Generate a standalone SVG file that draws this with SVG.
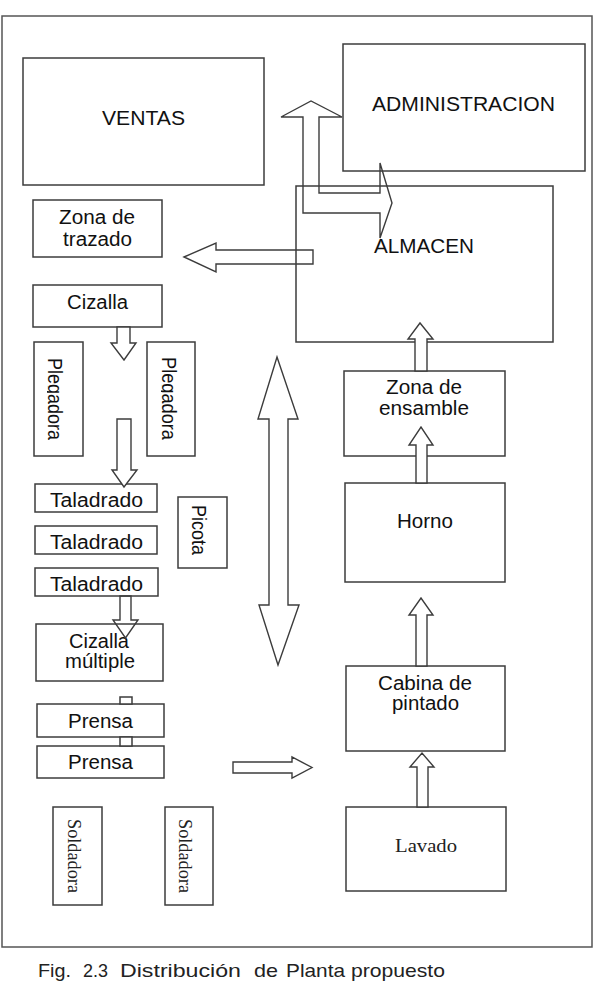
<svg xmlns="http://www.w3.org/2000/svg" width="594" height="985" viewBox="0 0 594 985">
<style>
.bx{fill:#fff;stroke:#3c3c3c;stroke-width:1.5}
.ar{fill:#fff;stroke:#3c3c3c;stroke-width:1.4;stroke-linejoin:miter}
.arn{fill:none;stroke:#3c3c3c;stroke-width:1.4}
.t{font-family:"Liberation Sans",Arial,sans-serif;font-size:19.5px;fill:#111}
.s{font-family:"Liberation Serif","Times New Roman",serif;font-size:18px;fill:#222}
.c{font-family:"Liberation Sans",Arial,sans-serif;font-size:19px;fill:#222}
</style>
<defs>
<clipPath id="cpL"><rect x="47" y="343" width="35" height="112"/></clipPath>
<clipPath id="cpR"><rect x="161" y="343" width="33" height="112"/></clipPath>
</defs>
<rect x="2" y="16" width="590" height="931" fill="#fff" stroke="#555" stroke-width="1.5"/>

<g id="ventas"><rect class="bx" x="23" y="58" width="241" height="127"/><text class="t" x="102" y="125" textLength="83" lengthAdjust="spacingAndGlyphs">VENTAS</text></g>
<g id="administracion"><rect class="bx" x="343" y="44" width="242" height="127"/><text class="t" x="372" y="111" textLength="183" lengthAdjust="spacingAndGlyphs">ADMINISTRACION</text></g>
<g id="almacen"><rect class="bx" x="296" y="186" width="257" height="156"/><text class="t" x="374" y="253" textLength="100" lengthAdjust="spacingAndGlyphs">ALMACEN</text></g>
<g id="zona-trazado"><rect class="bx" x="33" y="200" width="129" height="57"/><text class="t" x="59" y="224" textLength="76" lengthAdjust="spacingAndGlyphs">Zona de</text><text class="t" x="63" y="246" textLength="69" lengthAdjust="spacingAndGlyphs">trazado</text></g>
<g id="cizalla"><rect class="bx" x="33" y="285" width="129" height="42"/><text class="t" x="67" y="309" textLength="61" lengthAdjust="spacingAndGlyphs">Cizalla</text></g>
<g id="plegadora-1"><rect class="bx" x="34" y="342" width="49" height="114"/><g clip-path="url(#cpL)"><text class="t" transform="translate(48,358) rotate(90)" textLength="82" lengthAdjust="spacingAndGlyphs">Plegadora</text></g></g>
<g id="plegadora-2"><rect class="bx" x="147" y="342" width="48" height="114"/><g clip-path="url(#cpR)"><text class="t" transform="translate(162,357) rotate(90)" textLength="83" lengthAdjust="spacingAndGlyphs">Plegadora</text></g></g>
<g id="taladrado-1"><rect class="bx" x="35" y="484" width="122" height="28"/><text class="t" x="50" y="507" textLength="93" lengthAdjust="spacingAndGlyphs">Taladrado</text></g>
<g id="taladrado-2"><rect class="bx" x="35" y="526" width="122" height="28"/><text class="t" x="50" y="549" textLength="93" lengthAdjust="spacingAndGlyphs">Taladrado</text></g>
<g id="taladrado-3"><rect class="bx" x="35" y="568" width="123" height="28"/><text class="t" x="50" y="591" textLength="93" lengthAdjust="spacingAndGlyphs">Taladrado</text></g>
<g id="picota"><rect class="bx" x="178" y="497" width="49" height="71"/><text class="t" transform="translate(192,505) rotate(90)" textLength="50" lengthAdjust="spacingAndGlyphs">Picota</text></g>
<g id="cizalla-multiple"><rect class="bx" x="36" y="624" width="127" height="57"/><text class="t" x="69" y="648" textLength="60" lengthAdjust="spacingAndGlyphs">Cizalla</text><text class="t" x="65" y="668" textLength="70" lengthAdjust="spacingAndGlyphs">múltiple</text></g>
<g id="prensa-1"><rect class="bx" x="37" y="704" width="127" height="33"/><text class="t" x="68" y="728" textLength="65" lengthAdjust="spacingAndGlyphs">Prensa</text></g>
<g id="prensa-2"><rect class="bx" x="37" y="746" width="127" height="32"/><text class="t" x="68" y="769" textLength="65" lengthAdjust="spacingAndGlyphs">Prensa</text></g>
<g id="soldadora-1"><rect class="bx" x="53" y="807" width="49" height="98"/><text class="s" transform="translate(68,819) rotate(90)" textLength="74" lengthAdjust="spacingAndGlyphs">Soldadora</text></g>
<g id="soldadora-2"><rect class="bx" x="165" y="807" width="48" height="98"/><text class="s" transform="translate(179,819) rotate(90)" textLength="74" lengthAdjust="spacingAndGlyphs">Soldadora</text></g>
<g id="zona-ensamble"><rect class="bx" x="344" y="371" width="161" height="85"/><text class="t" x="386" y="394" textLength="76" lengthAdjust="spacingAndGlyphs">Zona de</text><text class="t" x="379" y="415" textLength="90" lengthAdjust="spacingAndGlyphs">ensamble</text></g>
<g id="horno"><rect class="bx" x="345" y="483" width="160" height="99"/><text class="t" x="397" y="528" textLength="56" lengthAdjust="spacingAndGlyphs">Horno</text></g>
<g id="cabina"><rect class="bx" x="346" y="666" width="159" height="85"/><text class="t" x="378" y="690" textLength="94" lengthAdjust="spacingAndGlyphs">Cabina de</text><text class="t" x="392" y="710" textLength="67" lengthAdjust="spacingAndGlyphs">pintado</text></g>
<g id="lavado"><rect class="bx" x="346" y="807" width="160" height="84"/><text class="s" x="395" y="852" textLength="62" lengthAdjust="spacingAndGlyphs">Lavado</text></g>

<g id="connectors">
<polygon class="arn" points="184,257 216,243 216,250 313,250 313,264 216,264 216,272"/>
<polygon class="arn" points="303,213 303,117 281,117 311,101 342,117 319,117 319,193 380,193 380,163 392,203 380,238 380,213"/>
<polygon class="ar" points="117,327 130,327 130,343 136,343 124,360 111,343 117,343"/>
<polygon class="ar" points="117,419 131,419 131,470 137,470 124,487 112,470 117,470"/>
<polygon class="arn" points="120,596 131,596 131,620 138,620 125.5,638 113,620 120,620"/>
<polygon class="ar" points="233,762 292,762 292,757 312,767.5 292,778 292,773 233,773"/>
<polygon class="ar" points="277,357 298,419 288,419 288,605 299,605 278,665 259,605 269,605 269,419 258,419"/>
<polygon class="ar" points="415,371 415,339 408,339 420,323 433,339 427,339 427,371"/>
<polygon class="ar" points="416,483 416,445 409,445 421,427 433,445 427,445 427,483"/>
<polygon class="ar" points="416,666 416,615 409,615 421,598 433,615 427,615 427,666"/>
<polygon class="ar" points="417,807 417,767 410,767 422,753 434,767 428,767 428,807"/>
<rect class="bx" x="120" y="697" width="12" height="7"/>
<rect class="bx" x="120" y="737" width="12" height="9"/>
</g>

<g id="caption">
<text class="c" x="38" y="977" textLength="33" lengthAdjust="spacingAndGlyphs">Fig.</text>
<text class="c" x="83" y="977" textLength="25" lengthAdjust="spacingAndGlyphs">2.3</text>
<text class="c" x="120" y="977" textLength="121" lengthAdjust="spacingAndGlyphs">Distribución</text>
<text class="c" x="254" y="977" textLength="24" lengthAdjust="spacingAndGlyphs">de</text>
<text class="c" x="286" y="977" textLength="59" lengthAdjust="spacingAndGlyphs">Planta</text>
<text class="c" x="351" y="977" textLength="94" lengthAdjust="spacingAndGlyphs">propuesto</text>
</g>
</svg>
